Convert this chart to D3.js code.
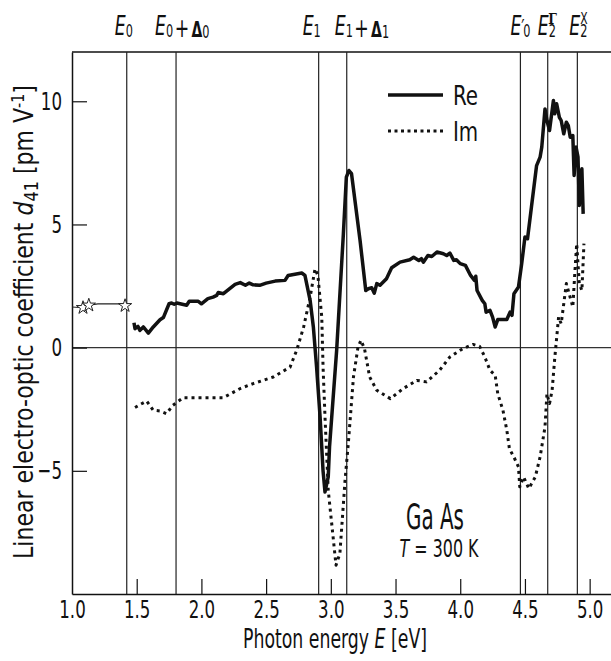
<!DOCTYPE html>
<html>
<head>
<meta charset="utf-8">
<script src="https://cdn.jsdelivr.net/npm/d3@7"></script>
<style>
  html, body { margin: 0; padding: 0; background: #fff; }
  svg text { font-family: 'Liberation Sans Narrow', 'Arial Narrow', 'DejaVu Sans Condensed', sans-serif; font-stretch: condensed; fill: #111; }
</style>
</head>
<body>
<svg id="chart" width="611" height="661"></svg>
<script>
// ---------------- data ----------------
const xTicks = [1.0, 1.5, 2.0, 2.5, 3.0, 3.5, 4.0, 4.5, 5.0];
const yTicks = [-5, 0, 5, 10];

const transitionNames = ["E0", "E0+D0", "E1", "E1+D1", "E'0", "E2G", "E2X"];
const transitionEnergies = [1.423, 1.804, 2.906, 3.123, 4.465, 4.676, 4.905];

const reEnergy = [1.479,1.487,1.51,1.525,1.551,1.57,1.59,1.628,1.68,1.706,1.75,1.77,1.79,1.81,1.886,1.906,1.976,2.0,2.05,2.09,2.118,2.13,2.17,2.26,2.30,2.34,2.37,2.40,2.45,2.50,2.57,2.646,2.67,2.775,2.80,2.84,2.865,2.89,2.917,2.94,2.955,2.98,2.99,3.045,3.097,3.12,3.14,3.16,3.226,3.27,3.29,3.316,3.336,3.355,3.38,3.43,3.47,3.535,3.61,3.64,3.68,3.70,3.715,3.75,3.78,3.82,3.87,3.895,3.92,3.95,3.97,4.0,4.04,4.08,4.11,4.12,4.13,4.17,4.19,4.20,4.23,4.25,4.27,4.29,4.36,4.385,4.40,4.415,4.45,4.475,4.50,4.52,4.55,4.59,4.617,4.63,4.655,4.67,4.69,4.72,4.73,4.745,4.766,4.78,4.80,4.82,4.835,4.85,4.87,4.88,4.895,4.91,4.92,4.94,4.95];
const reValue  = [1.01,0.77,0.86,0.70,0.84,0.72,0.59,0.84,1.13,1.22,1.78,1.81,1.76,1.81,1.72,1.88,1.88,1.78,1.99,2.05,2.12,2.24,2.19,2.57,2.64,2.53,2.62,2.55,2.53,2.62,2.70,2.73,2.93,3.03,2.93,1.92,0.84,-0.79,-2.81,-5.0,-5.86,-5.25,-4.03,-0.11,4.62,6.92,7.19,7.06,4.35,2.32,2.39,2.43,2.21,2.6,2.53,2.8,3.24,3.47,3.57,3.67,3.54,3.61,3.47,3.74,3.70,3.88,3.81,3.74,3.84,3.54,3.57,3.41,3.34,2.93,2.73,2.9,2.32,1.92,1.78,1.44,1.51,1.24,0.84,1.14,1.14,1.44,1.31,2.19,2.46,3.41,4.49,4.42,5.70,7.39,7.73,8.14,9.69,9.22,8.81,10.03,9.49,9.9,9.35,9.22,8.68,9.15,9.01,8.54,8.61,6.99,8.14,7.73,5.77,7.26,5.43];

const imEnergy = [1.487,1.53,1.577,1.628,1.68,1.73,1.78,1.86,2.17,2.30,2.40,2.556,2.685,2.736,2.79,2.84,2.878,2.90,2.93,2.94,2.955,2.98,3.02,3.04,3.07,3.11,3.135,3.175,3.21,3.233,3.26,3.30,3.355,3.46,3.56,3.665,3.74,3.84,3.92,4.02,4.10,4.15,4.19,4.23,4.27,4.29,4.33,4.36,4.38,4.42,4.45,4.46,4.49,4.53,4.58,4.617,4.655,4.67,4.69,4.71,4.73,4.76,4.78,4.82,4.87,4.885,4.90,4.92,4.94,4.956];
const imValue  = [-2.43,-2.3,-2.17,-2.54,-2.57,-2.68,-2.34,-2.03,-2.03,-1.66,-1.46,-1.19,-0.79,-0.11,0.84,2.05,3.2,2.93,1.24,-0.79,-2.81,-5.79,-7.81,-8.83,-8.36,-5.38,-3.89,-1.19,0.02,0.30,-0.04,-1.19,-1.73,-2.07,-1.66,-1.33,-1.39,-0.92,-0.38,-0.04,0.13,0.05,-0.38,-0.92,-1.12,-1.87,-2.54,-3.35,-4.10,-4.50,-4.84,-5.65,-5.25,-5.72,-5.25,-4.44,-3.22,-1.87,-2.27,-1.73,-0.45,1.24,0.97,2.6,1.65,3.0,4.22,2.6,2.32,4.22];

const lowEnergy = [1.0, 1.085, 1.13, 1.2, 1.41];
const lowValue  = [1.65, 1.62, 1.72, 1.78, 1.78];
const starEnergy = [1.085, 1.13, 1.41];
const starValue  = [1.62, 1.72, 1.70];

const legendLabels = ["Re", "Im"];

// ---------------- layout ----------------
const W = 611, H = 661;
const L = 72, R = 611, T = 52, B = 594;
const svg = d3.select("#chart");

const x = d3.scaleLinear().domain([1.0, 5.165]).range([L, R]);
const y = d3.scaleLinear().domain([-10, 12]).range([B, T]);

const ink = "#111";

// horizontally condense a text element (narrow typeface look) via transform
function condenseAt(sel, tx, ty, f, pre) {
  sel.attr("x", 0).attr("y", 0)
     .attr("transform", `translate(${tx},${ty})${pre || ""} scale(${f},1)`);
}

// frame: top line
svg.append("line").attr("x1", L).attr("x2", R).attr("y1", T).attr("y2", T)
  .attr("stroke", ink).attr("stroke-width", 1.3);

// zero line
svg.append("line").attr("x1", L).attr("x2", R).attr("y1", y(0)).attr("y2", y(0))
  .attr("stroke", "#333").attr("stroke-width", 1.2);

// transition vertical lines
svg.append("g").selectAll("line").data(transitionEnergies).join("line")
  .attr("x1", d => x(d)).attr("x2", d => x(d))
  .attr("y1", T).attr("y2", B)
  .attr("stroke", "#222").attr("stroke-width", 1.2);

// axes
const xAxis = d3.axisBottom(x).tickValues(xTicks).tickFormat(d3.format(".1f"))
  .tickSizeInner(-15).tickSizeOuter(0).tickPadding(6);
const gx = svg.append("g").attr("transform", `translate(0,${B})`).call(xAxis);
gx.select(".domain").attr("stroke", ink).attr("stroke-width", 1.5);
gx.selectAll(".tick line").attr("stroke", ink).attr("stroke-width", 1.2);
gx.selectAll(".tick text").attr("font-size", 25).each(function () {
  condenseAt(d3.select(this), 0, 6, 0.74);
});
gx.selectAll(".tick").filter(d => d === 1.0).select("line").remove();

const yAxis = d3.axisLeft(y).tickValues(yTicks).tickFormat(d3.format("d"))
  .tickSizeInner(-15).tickSizeOuter(0).tickPadding(10);
const gy = svg.append("g").attr("transform", `translate(${L},0)`).call(yAxis);
gy.select(".domain").attr("stroke", ink).attr("stroke-width", 1.5);
gy.selectAll(".tick line").attr("stroke", ink).attr("stroke-width", 1.2);
gy.selectAll(".tick text").attr("font-size", 25).each(function () {
  condenseAt(d3.select(this), -10, 0, 0.74);
});
svg.selectAll(".tick text").attr("fill", ink);
svg.selectAll("g").attr("font-family", null);

// data lines
const line = d3.line().x(d => x(d[0])).y(d => y(d[1]));
const reData = reEnergy.map((e, i) => [e, reValue[i]]);
const imData = imEnergy.map((e, i) => [e, imValue[i]]);
const lowData = lowEnergy.map((e, i) => [e, lowValue[i]]);

svg.append("path").datum(imData).attr("d", line)
  .attr("fill", "none").attr("stroke", ink).attr("stroke-width", 3)
  .attr("stroke-dasharray", "3,4").attr("stroke-linejoin", "round");

svg.append("path").datum(reData).attr("d", line)
  .attr("fill", "none").attr("stroke", ink).attr("stroke-width", 3.5)
  .attr("stroke-linejoin", "round");

svg.append("path").datum(lowData).attr("d", line)
  .attr("fill", "none").attr("stroke", "#222").attr("stroke-width", 1.2);

const star = d3.symbol().type(d3.symbolStar).size(55);
svg.append("g").selectAll("path").data(starEnergy.map((e, i) => [e, starValue[i]])).join("path")
  .attr("d", star)
  .attr("transform", d => `translate(${x(d[0])},${y(d[1])})`)
  .attr("fill", "#fff").attr("stroke", "#222").attr("stroke-width", 1);

// legend
const lg = svg.append("g");
lg.append("line").attr("x1", 388).attr("x2", 443).attr("y1", 95).attr("y2", 95)
  .attr("stroke", ink).attr("stroke-width", 3.5);
lg.append("line").attr("x1", 388).attr("x2", 443).attr("y1", 131).attr("y2", 131)
  .attr("stroke", ink).attr("stroke-width", 3).attr("stroke-dasharray", "3,3.5");
condenseAt(lg.append("text").attr("font-size", 26).text(legendLabels[0]), 453, 105, 0.85);
condenseAt(lg.append("text").attr("font-size", 26).text(legendLabels[1]), 453, 141, 0.85);

// transition labels at top
const topY = 35;
function topLabel(xStart, build) {
  const t = svg.append("text").attr("font-size", 26);
  build(t);
  condenseAt(t, xStart, topY, 0.74);
  return t;
}
function E(t) { t.append("tspan").attr("font-style", "italic").text("E"); }
function sub(t, s) {
  t.append("tspan").attr("font-size", 17).attr("dy", 1.5).text(s);
  t.append("tspan").attr("dy", -1.5).text("");
}
function plusDelta(t) {
  t.append("tspan").attr("dx", 2).text("+");
  t.append("tspan").attr("dx", 3).attr("font-weight", "bold").attr("font-family", "DejaVu Sans")
    .attr("font-size", 21).text("Δ");
}
topLabel(x(transitionEnergies[0]) - 12, t => { E(t); sub(t, "0"); });
topLabel(x(transitionEnergies[1]) - 21, t => {
  E(t); sub(t, "0"); plusDelta(t); sub(t, "0");
});
topLabel(x(transitionEnergies[2]) - 16, t => { E(t); sub(t, "1"); });
topLabel(x(transitionEnergies[3]) - 12, t => {
  E(t); sub(t, "1"); plusDelta(t); sub(t, "1");
});
topLabel(x(transitionEnergies[4]) - 10, t => {
  E(t);
  t.append("tspan").attr("font-size", 22).text("′");
  t.append("tspan").attr("font-size", 17).attr("dx", -2).attr("dy", 1.5).text("0");
});
topLabel(x(transitionEnergies[5]) - 10, t => { E(t); sub(t, "2"); });
topLabel(x(transitionEnergies[6]) - 8, t => { E(t); sub(t, "2"); });
// stacked superscripts (separate small texts above the subscripts)
const supG = svg.append("text").attr("font-size", 15).attr("font-weight", "bold")
  .style("font-family", "'DejaVu Serif', serif").text("Γ");
condenseAt(supG, x(transitionEnergies[5]) + 0.5, 24, 0.9);
const supX = svg.append("text").attr("font-size", 15).text("X");
condenseAt(supX, x(transitionEnergies[6]) + 3, 24, 0.8);

// axis titles
const xt = svg.append("text").attr("text-anchor", "middle").attr("font-size", 26);
xt.append("tspan").text("Photon energy ");
xt.append("tspan").attr("font-style", "italic").text("E");
xt.append("tspan").text(" [eV]");
condenseAt(xt, 335, 648, 184 / xt.node().getComputedTextLength());

const yt = svg.append("text").attr("text-anchor", "middle").attr("font-size", 26);
yt.append("tspan").text("Linear electro-optic coefficient ");
yt.append("tspan").attr("font-style", "italic").text("d");
yt.append("tspan").attr("font-size", 19).attr("dy", 5).text("41");
yt.append("tspan").attr("dy", -5).text(" [pm V");
yt.append("tspan").attr("font-size", 17).attr("dy", -9).text("-1");
yt.append("tspan").attr("dy", 9).text("]");
condenseAt(yt, 33, (T + B) / 2 - 1, 474 / yt.node().getComputedTextLength(), " rotate(-90)");

// sample annotation
const ga = svg.append("text").attr("text-anchor", "middle").attr("font-size", 36).text("Ga As");
condenseAt(ga, 435, 529, 58 / ga.node().getComputedTextLength());
const tt = svg.append("text").attr("text-anchor", "middle").attr("font-size", 25);
tt.append("tspan").attr("font-style", "italic").text("T");
tt.append("tspan").text(" = 300 K");
condenseAt(tt, 439, 557, 79 / tt.node().getComputedTextLength());
</script>
</body>
</html>
